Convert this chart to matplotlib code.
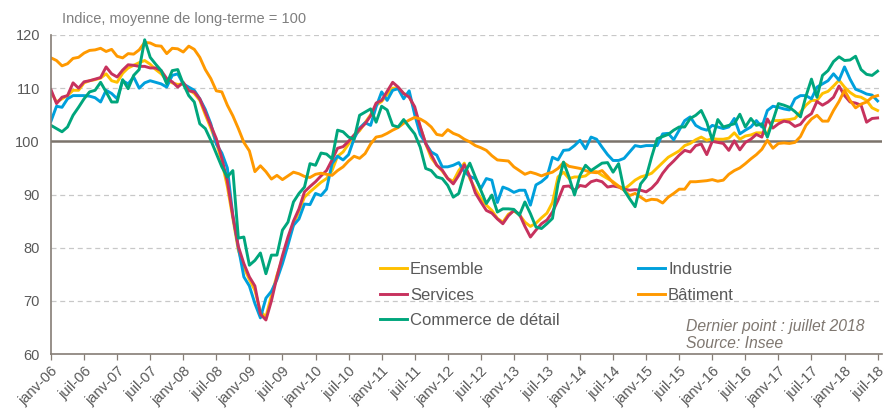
import matplotlib
matplotlib.use("Agg")
import matplotlib.pyplot as plt
import numpy as np

# Climat des affaires par secteur, mensuel janv-2006 .. juil-2018 (151 points)
ensemble = [
    109.3, 107.4, 108.0, 108.6, 109.6, 109.6, 111.0, 111.4, 111.6, 111.9, 112.7, 111.4,
    111.1, 112.8, 113.8, 114.3, 114.8, 115.2, 114.5, 113.5, 112.7, 111.5, 111.0, 110.7,
    110.8, 109.7, 109.0, 107.7, 105.0, 102.5, 99.8, 96.2, 91.5, 85.5, 79.5, 76.3,
    74.0, 72.0, 68.0, 67.0, 71.0, 74.8, 78.0, 81.5, 84.3, 86.9, 89.5, 90.5,
    91.4, 92.3, 93.0, 94.5, 97.2, 98.0, 99.5, 101.0, 102.0, 103.5, 105.0, 106.8,
    107.5, 108.8, 110.0, 110.0, 109.0, 108.5, 106.0, 102.7, 99.5, 96.9, 95.5, 94.4,
    93.0, 92.5, 94.5, 95.9, 93.0, 91.0, 89.3, 88.0, 87.0, 85.5, 84.8, 86.3,
    86.9, 86.2, 84.8, 84.0, 84.6, 85.6, 86.5, 88.5, 93.3, 94.2, 93.0, 93.3,
    93.3, 93.5, 94.3, 94.3, 93.6, 93.0, 92.4, 91.6, 91.0, 91.8, 92.7, 93.3,
    93.6, 94.0, 95.0, 96.0, 97.0, 97.6, 98.2, 99.2, 99.6, 100.3, 100.8, 100.2,
    100.5, 100.4, 100.4, 100.6, 101.6, 100.4, 101.0, 101.2, 101.6, 101.6, 101.4, 103.9,
    103.9, 104.0, 104.1, 104.3, 105.5, 106.8, 107.7, 107.7, 109.0, 109.4, 110.4, 111.5,
    110.2, 109.2, 108.5, 108.3, 107.7, 106.3, 105.8,
]
industrie = [
    103.8, 106.6, 106.4, 108.0, 108.6, 108.6, 108.6, 108.5, 108.2, 107.4, 109.6, 109.0,
    108.0, 111.4, 110.8, 112.1, 110.0, 111.0, 111.4, 111.1, 110.8, 110.2, 112.4, 112.7,
    110.8, 110.2, 109.6, 108.0, 106.0, 103.3, 99.5, 97.8, 95.0, 86.0, 80.0, 74.5,
    72.8, 69.5, 66.8, 70.5, 71.8, 74.0, 77.0, 80.5, 84.2, 85.4, 88.2, 88.1,
    90.2, 89.8, 91.0, 95.8, 97.2, 96.5, 97.5, 100.5, 102.5, 103.5, 103.0, 106.5,
    109.3, 107.7, 109.6, 109.9, 108.0, 109.5, 105.0, 101.3, 99.6, 98.0, 97.4, 95.2,
    95.2, 95.5, 96.0, 94.3, 93.4, 93.0, 91.1, 93.0, 92.7, 88.5, 91.4, 91.0,
    90.4, 90.8, 90.8, 88.0, 91.8, 92.4, 93.3, 97.0, 96.5, 98.3, 98.4, 99.2,
    100.2, 98.6, 100.8, 100.4, 98.9, 97.5, 96.4, 96.4, 96.8, 98.0, 99.2, 99.0,
    99.2, 99.2, 99.2, 101.4, 101.5, 100.3, 102.1, 103.9, 104.6, 103.0, 102.4, 102.1,
    103.0, 102.7, 102.4, 102.7, 104.3, 101.4, 102.1, 102.7, 103.9, 102.7, 105.8, 106.6,
    106.4, 106.1, 105.9, 108.0, 108.6, 108.6, 108.0, 110.2, 110.8, 111.4, 112.7, 111.5,
    114.0, 111.7, 109.8, 109.4, 108.9, 108.7, 107.6,
]
services = [
    109.7, 107.1, 108.3, 108.6, 111.0, 110.0, 111.2, 111.4, 111.7, 112.0, 114.0, 112.7,
    112.1, 113.4, 114.4, 114.3, 114.1, 114.1, 113.8, 113.8, 113.3, 111.8, 111.2, 110.2,
    111.1, 109.5, 109.3, 108.0, 105.5, 103.0, 100.5, 96.8, 92.5, 86.0, 80.2, 77.0,
    74.5, 72.8, 67.5, 66.4, 70.0, 74.5, 78.5, 82.0, 85.0, 87.3, 90.5, 91.5,
    92.4, 93.5, 94.5, 96.5, 98.7, 99.0, 100.0, 101.2, 102.3, 103.3, 104.8, 107.2,
    107.7, 109.4, 111.1, 110.2, 109.0, 108.3, 106.5, 102.8, 99.6, 97.5, 95.5, 94.6,
    93.0, 92.0, 93.6, 95.6, 93.4, 90.3, 88.6, 87.0, 86.5, 85.4, 84.5, 86.0,
    87.0, 86.3, 84.0, 82.0, 83.3, 84.5, 85.2, 86.7, 88.9, 91.5, 91.6, 90.8,
    91.7, 91.5, 92.4, 92.7, 92.4, 91.4, 91.6, 91.4, 91.0, 90.8, 90.9, 90.8,
    90.5, 91.2, 92.3, 94.0, 95.3, 96.3, 97.4, 98.3, 98.0, 99.2, 99.5, 97.5,
    100.0, 99.8, 99.6, 98.3, 100.1, 98.4, 99.8, 100.4, 101.3, 100.8, 104.2, 102.5,
    103.3, 103.8, 103.6, 102.8, 103.2, 104.5, 105.2, 107.5, 106.8, 107.4, 108.3, 110.4,
    108.6, 107.4, 107.2, 106.8, 103.6, 104.3, 104.4,
]
batiment = [
    115.7, 115.2, 114.2, 114.6, 115.6, 115.8, 116.6, 117.1, 117.2, 117.5, 116.9, 117.3,
    116.0, 115.7, 116.5, 116.4, 117.2, 118.6, 118.5, 118.0, 117.9, 116.5, 117.5, 117.4,
    116.8, 117.9, 117.3, 115.8, 113.5, 111.8, 109.5, 109.3, 106.8, 104.8, 102.4, 99.8,
    98.2, 94.3, 95.4, 94.3, 92.9, 93.6, 92.8, 93.5, 94.2, 93.9, 93.4, 93.2,
    93.8, 94.0, 93.8, 93.6, 94.5, 95.2, 96.3, 97.2, 96.8, 97.7, 99.5, 100.8,
    101.0, 101.5, 102.1, 102.6, 103.4, 104.0, 104.5, 104.2, 103.6, 102.7, 101.3, 101.1,
    102.2, 101.5, 101.1, 100.4, 99.9, 99.2, 98.8, 98.3, 97.3, 96.5, 96.4, 96.3,
    95.2, 94.5, 93.8, 94.2, 93.9, 93.5, 93.9, 94.2, 94.9, 96.0, 95.3, 95.1,
    94.9, 94.5, 94.2, 94.1, 94.5, 93.4, 92.2, 91.5, 90.8, 89.8, 90.2, 89.5,
    88.8, 89.1, 89.0, 88.4, 89.5, 90.2, 91.0, 91.0, 92.4, 92.4, 92.5, 92.6,
    92.8, 92.5, 92.7, 93.8, 94.5, 95.0, 95.8, 96.7, 97.5, 98.5, 100.2, 98.7,
    99.6, 99.7, 99.6, 99.8, 100.9, 103.0, 104.2, 104.9, 103.8, 103.8, 105.8, 107.5,
    109.6, 107.7, 106.3, 107.0, 107.4, 108.3, 108.6,
]
commerce = [
    103.0, 102.4, 101.8, 102.7, 104.9, 106.4, 108.0, 109.3, 109.6, 111.1, 109.3, 107.4,
    107.4, 111.6, 109.9, 112.4, 113.5, 119.1, 115.8, 114.5, 113.3, 110.8, 113.3, 113.5,
    110.8, 108.6, 107.4, 103.3, 102.4, 100.2, 97.7, 95.2, 93.3, 94.5, 81.8, 82.0,
    76.7, 77.6, 79.0, 75.1, 78.6, 78.6, 83.3, 84.8, 88.6, 90.2, 91.4, 95.8,
    95.5, 97.8, 97.6, 96.7, 102.1, 101.8, 100.8, 100.4, 104.9, 105.5, 106.1, 103.6,
    106.6, 105.9, 103.0, 102.7, 104.1, 102.7, 101.4, 98.9, 94.9, 94.5, 93.3, 93.0,
    91.7, 89.5, 90.2, 93.9, 95.9, 93.3, 90.8, 88.3, 89.9, 86.7, 87.3, 87.3,
    87.2, 86.1, 88.6, 86.4, 83.9, 83.6, 84.5, 85.5, 92.0, 96.1, 93.3, 89.9,
    93.6, 95.5, 94.5, 95.2, 95.9, 96.0, 94.2, 95.8, 90.8, 89.2, 87.7, 92.0,
    93.3, 97.1, 100.5, 100.9, 101.3, 102.1, 102.7, 102.7, 104.3, 104.9, 105.8, 103.6,
    100.2, 104.1, 102.7, 103.0, 103.3, 105.1, 102.7, 104.3, 103.0, 103.3, 100.8, 103.9,
    107.1, 106.8, 106.4, 105.6, 104.6, 108.5, 111.7, 108.3, 112.4, 113.3, 115.0, 115.9,
    115.2, 115.3, 116.0, 113.5, 112.6, 112.4, 113.2,
]

tick_labels = []
for yr in range(6, 19):
    tick_labels += [f"janv-{yr:02d}", f"juil-{yr:02d}"]
tick_labels = tick_labels[:26]

series = [
    ("Ensemble", ensemble, "#FFC000"),
    ("Industrie", industrie, "#00A0DC"),
    ("Services", services, "#C7325E"),
    ("Bâtiment", batiment, "#FF9900"),
    ("Commerce de détail", commerce, "#00A67C"),
]

plt.rcParams["font.family"] = ["Liberation Sans", "DejaVu Sans"]

W, H = 884, 412
fig = plt.figure(figsize=(W / 100, H / 100), dpi=100)
ax = fig.add_axes([51 / W, 1 - 354 / H, (882 - 51) / W, (354 - 35) / H])

axis_col = "#857d75"
text_col = "#595959"

lines = {}
for name, vals, col in series:
    x = np.arange(len(vals))
    (ln,) = ax.plot(x, vals, color=col, lw=2.1, label=name, solid_joinstyle="round")
    lines[name] = ln

ax.set_xlim(0, 150.8)
ax.set_ylim(60, 120)
ax.set_yticks(range(60, 121, 10))
for v in [70, 80, 90, 110, 120]:
    ax.axhline(v, color="#c8c8c8", lw=0.9, ls=(0, (4, 3)), zorder=0)
ax.axhline(100, color="#7b736b", lw=1.8, zorder=1)

ax.set_xticks(np.arange(0, 151, 6))
ax.set_xticklabels(tick_labels, rotation=45, ha="right", va="top",
                   rotation_mode="anchor", fontsize=10.5, color=text_col)
ax.tick_params(axis="x", length=4, width=0.9, color=axis_col, pad=3)
ax.tick_params(axis="y", length=0, pad=8, labelsize=10.5, labelcolor=text_col)

for s in ["top", "right"]:
    ax.spines[s].set_visible(False)
for s in ["left", "bottom"]:
    ax.spines[s].set_color(axis_col)
    ax.spines[s].set_linewidth(1.2)

fig.text(62 / W, 1 - 19 / H, "Indice, moyenne de long-terme = 100",
         fontsize=10.5, color="#7f7f7f", va="center", ha="left")

leg_kw = dict(frameon=False, fontsize=12, handlelength=1.6, handletextpad=0.2,
              labelspacing=0.63, borderpad=0, borderaxespad=0, loc="upper left",
              bbox_transform=fig.transFigure, labelcolor=text_col)
h1 = [lines["Ensemble"], lines["Services"], lines["Commerce de détail"]]
leg1 = ax.legend(h1, [h.get_label() for h in h1],
                 bbox_to_anchor=(380 / W, 1 - 262 / H), **leg_kw)
ax.add_artist(leg1)
h2 = [lines["Industrie"], lines["Bâtiment"]]
ax.legend(h2, [h.get_label() for h in h2],
          bbox_to_anchor=(638 / W, 1 - 262 / H), **leg_kw)

fig.text(686 / W, 1 - 326 / H, "Dernier point : juillet 2018", fontsize=11.3,
         style="italic", color="#7f7770", va="center", ha="left")
fig.text(686 / W, 1 - 344 / H, "Source: Insee", fontsize=11.3,
         style="italic", color="#7f7770", va="center", ha="left")

fig.savefig("out.png", dpi=100, facecolor="white")
